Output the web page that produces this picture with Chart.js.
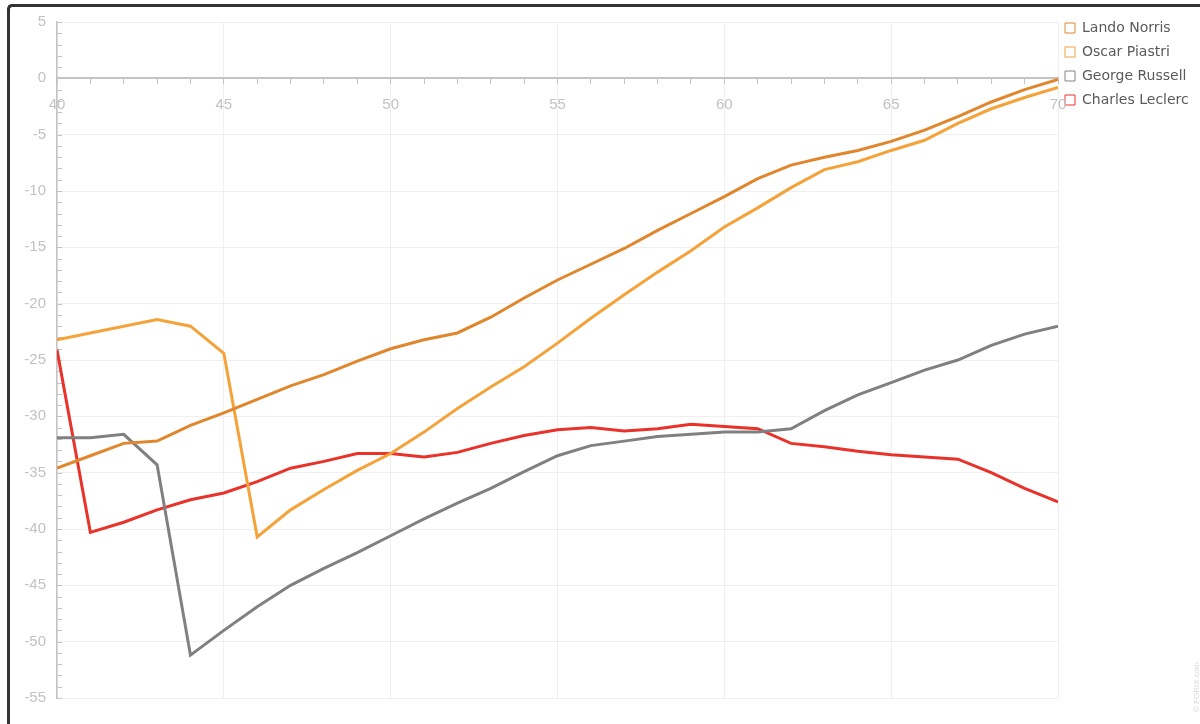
<!DOCTYPE html>
<html>
<head>
<meta charset="utf-8">
<script src="https://cdn.jsdelivr.net/npm/chart.js@4.4.1/dist/chart.umd.min.js"></script>
<style>
  html, body { margin: 0; padding: 0; background: #fff; overflow: hidden; }
  #frame {
    position: absolute; left: 7px; top: 4px; width: 1193px; height: 720px;
    border-left: 3px solid #333; border-top: 3px solid #333;
    border-top-left-radius: 5px; box-sizing: border-box;
  }
  #wrap { position: absolute; left: 0; top: -5px; width: 1190px; height: 722px; }
</style>
</head>
<body>
<div id="frame"><div id="wrap"><canvas id="lapChart"></canvas></div></div>
<script>
const laps = [40, 41, 42, 43, 44, 45, 46, 47, 48, 49, 50, 51, 52, 53, 54, 55,
  56, 57, 58, 59, 60, 61, 62, 63, 64, 65, 66, 67, 68, 69, 70];

const lando = [-34.6, -33.5, -32.4, -32.2, -30.8, -29.7, -28.5, -27.3, -26.3, -25.1, -24.0,
  -23.2, -22.6, -21.2, -19.5, -17.9, -16.5, -15.1, -13.5, -12.0, -10.5,
  -8.9, -7.7, -7.0, -6.4, -5.6, -4.6, -3.4, -2.1, -1.0, -0.1];
const oscar = [-23.2, -22.6, -22.0, -21.4, -22.0, -24.4, -40.7, -38.3, -36.5, -34.8, -33.3,
  -31.4, -29.3, -27.4, -25.6, -23.5, -21.3, -19.2, -17.2, -15.3, -13.2,
  -11.5, -9.7, -8.1, -7.4, -6.4, -5.5, -4.0, -2.7, -1.7, -0.8];
const george = [-31.9, -31.9, -31.6, -34.3, -51.2, -49.0, -46.9, -45.0, -43.5, -42.1, -40.6,
  -39.1, -37.7, -36.4, -34.9, -33.5, -32.6, -32.2, -31.8, -31.6, -31.4,
  -31.4, -31.1, -29.5, -28.1, -27.0, -25.9, -25.0, -23.7, -22.7, -22.0];
const charles = [-24.1, -40.3, -39.4, -38.3, -37.4, -36.8, -35.8, -34.6, -34.0, -33.3, -33.3,
  -33.6, -33.2, -32.4, -31.7, -31.2, -31.0, -31.3, -31.1, -30.7, -30.9,
  -31.1, -32.4, -32.7, -33.1, -33.4, -33.6, -33.8, -35.0, -36.4, -37.6];

const driverNames = ['Lando Norris', 'Oscar Piastri', 'George Russell', 'Charles Leclerc'];
const driverColors = ['#e0862c', '#f4a23a', '#808080', '#e8322a'];
const driverSeries = [lando, oscar, george, charles];

const tickGrey = '#c4c4c4';
const labelGrey = '#c2c2c2';

// minor ticks on the y axis point inward, like the original
const yMinorTicks = {
  id: 'yMinorTicks',
  beforeDatasetsDraw(chart) {
    const ys = chart.scales.y;
    const ctx = chart.ctx;
    ctx.save();
    ctx.strokeStyle = tickGrey;
    ctx.lineWidth = 1;
    for (let v = ys.min; v <= ys.max; v++) {
      const py = Math.round(ys.getPixelForValue(v)) + 0.5;
      ctx.beginPath();
      ctx.moveTo(ys.right, py);
      ctx.lineTo(ys.right + 5, py);
      ctx.stroke();
    }
    ctx.restore();
  }
};

const legendNudge = {
  id: 'legendNudge',
  afterLayout(chart) {
    const lg = chart.legend;
    lg.top -= 1; lg.bottom -= 1;
    lg.left -= 3; lg.right -= 3;
  }
};

const watermark = {
  id: 'watermark',
  afterDraw(chart) {
    const ctx = chart.ctx;
    ctx.save();
    ctx.translate(chart.width - 3, chart.height - 12);
    ctx.rotate(-Math.PI / 2);
    ctx.font = '8px "Liberation Sans", Arial, sans-serif';
    ctx.fillStyle = '#d8d8d8';
    ctx.textBaseline = 'middle';
    ctx.fillText('\u00a9 FORIX.com', 0, 0);
    ctx.restore();
  }
};

window.onload = () => {
  const ctx = document.getElementById('lapChart').getContext('2d');
  new Chart(ctx, {
    type: 'line',
    data: {
      datasets: driverSeries.map((series, i) => ({
        label: driverNames[i],
        data: laps.map((lap, j) => ({ x: lap, y: series[j] })),
        borderColor: driverColors[i],
        backgroundColor: driverColors[i],
        borderWidth: 3,
        pointRadius: 0,
        tension: 0
      }))
    },
    options: {
      responsive: true,
      maintainAspectRatio: false,
      animation: false,
      layout: { padding: { top: 10, bottom: 26, left: 0, right: 0 } },
      scales: {
        x: {
          type: 'linear',
          min: 40,
          max: 70,
          position: { y: 0 },
          ticks: {
            stepSize: 1,
            autoSkip: false,
            maxRotation: 0,
            padding: 13,
            color: labelGrey,
            font: { family: '"Liberation Sans", Arial, sans-serif', size: 15 },
            callback: v => (v % 5 === 0 ? v : '')
          },
          grid: {
            color: c => (c.tick && c.tick.value % 5 === 0 ? '#efefef' : 'rgba(0,0,0,0)'),
            tickColor: tickGrey,
            tickLength: 5
          },
          border: { color: tickGrey, width: 2 }
        },
        y: {
          min: -55,
          max: 5,
          afterFit: s => { s.width = 47; },
          ticks: {
            stepSize: 5,
            padding: 11,
            color: labelGrey,
            font: { family: '"Liberation Sans", Arial, sans-serif', size: 15 }
          },
          grid: { color: '#efefef', drawTicks: false },
          border: { color: tickGrey, width: 1.5 }
        }
      },
      plugins: {
        legend: {
          position: 'right',
          align: 'start',
          maxWidth: 142,
          labels: {
            boxWidth: 10,
            boxHeight: 10,
            padding: 10,
            color: '#5a5a5a',
            font: { family: '"DejaVu Sans", Verdana, sans-serif', size: 14 },
            generateLabels: chart => chart.data.datasets.map((ds, i) => ({
              text: ds.label,
              fillStyle: '#ffffff',
              strokeStyle: ds.borderColor,
              lineWidth: 1,
              fontColor: '#5a5a5a',
              hidden: !chart.isDatasetVisible(i),
              datasetIndex: i
            }))
          }
        },
        tooltip: { enabled: false }
      }
    },
    plugins: [yMinorTicks, legendNudge, watermark]
  });
};
</script>
</body>
</html>
